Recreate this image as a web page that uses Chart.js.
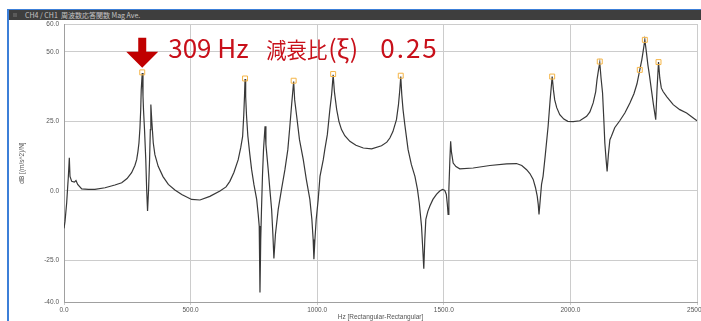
<!DOCTYPE html>
<html lang="ja">
<head>
<meta charset="UTF-8">
<title>CH4 / CH1 周波数応答関数 Mag Ave.</title>
<style>
  html, body { margin: 0; padding: 0; background: #fff; }
  #frame {
    position: absolute; left: 7px; top: 9px; width: 692px; height: 312px;
    border-left: 2px solid #3c7fd8;
  }
  #bar {
    position: absolute; left: 0; top: 0; right: 0; height: 10px;
    background: #3e3e3e; border-top: 1px solid #3c7fd8;
    color: #c4c4c4; font: 7px "Noto Sans CJK JP", sans-serif; line-height: 10px;
    padding-left: 16px; white-space: nowrap;
  }
  #bar .icon {
    position: absolute; left: 4px; top: 3px; width: 4px; height: 4px; background: #5a5a5a;
  }
  #frf { position: absolute; left: 0; top: 0; }
</style>
</head>
<body>
<div id="frame">
  <div id="bar"><span class="icon"></span>CH4 / CH1&nbsp;&nbsp;周波数応答関数&nbsp;Mag&nbsp;Ave.</div>
</div>
<canvas id="frf" width="701" height="321"></canvas>

<script src="https://cdn.jsdelivr.net/npm/chart.js"></script>
<script>
// FRF magnitude (Hz / dB)
const freqHz = [0, 4, 10.7, 14.6, 17, 21, 23.7, 30.4, 40.7, 47.4, 54, 70, 96, 122, 162, 201, 228, 249, 267, 280,
  287, 292, 296, 300, 303, 305, 309, 312, 314, 318, 323, 326.5, 330, 334, 338, 341, 343, 347, 352.6, 359,
  372, 391, 412, 438, 465, 504, 537, 576, 616, 640, 655, 671, 688, 698, 705.5, 710, 713, 715, 717.5, 721,
  726, 734, 741, 750, 761, 767, 771, 774, 777, 780, 784, 788, 794, 797.5, 806.5, 813, 820, 825, 829, 835,
  846, 859, 872.5, 884, 892, 899, 907, 911, 919, 930, 945, 957, 971, 979, 984, 987, 991, 996, 1004, 1011,
  1024, 1030, 1040, 1050, 1057, 1063, 1068, 1077, 1086, 1096, 1109, 1129, 1153, 1182, 1215, 1254, 1275, 1287, 1299, 1313,
  1321, 1326, 1330, 1334, 1339, 1346, 1359, 1372, 1386, 1396, 1403, 1412, 1417, 1421, 1425, 1429, 1437, 1445, 1457, 1471,
  1484, 1495, 1504, 1510, 1514, 1517, 1520, 1524, 1527, 1530, 1537, 1548, 1563, 1616, 1682, 1748, 1787, 1808, 1827, 1840,
  1853, 1862, 1869, 1873, 1876, 1881, 1886, 1892, 1901, 1912, 1920, 1928, 1933, 1938, 1946, 1958, 1974, 1990, 2011, 2037,
  2064, 2077, 2090, 2100, 2105, 2111, 2116, 2121, 2127, 2132, 2136, 2141, 2145, 2150, 2156, 2162, 2175, 2195, 2215, 2235,
  2251, 2263, 2274, 2282, 2287, 2294, 2300, 2306, 2312, 2320, 2328, 2337, 2342, 2348, 2353, 2359, 2366, 2381, 2406, 2432,
  2459, 2484, 2500];
const magDb = [-13.5, -11, -4.2, 1.5, 4.8, 11.9, 5.2, 3.4, 3.1, 3.7, 2.3, 0.7, 0.5, 0.5, 1.1, 2.1, 2.9, 4.4, 6.5, 9.1,
  11.2, 14.1, 17.2, 22.7, 29.2, 36.3, 42.4, 34, 29.2, 22, 11.2, 0.5, -7.3, 0.5, 11.2, 22, 31, 24.8, 17.2, 13,
  8.8, 5.1, 2.3, 0.3, -1.3, -3.1, -3.3, -2, -0.1, 1.4, 3.4, 6.6, 11.2, 15.5, 19.6, 27.3, 34.4, 40.2, 33.8, 26.8,
  19.8, 13, 7.6, 2.3, -3.1, -8.5, -12.7, -36.6, -17.5, -6.7, 5.8, 14.8, 23.2, 16.6, 7.6, 0.5, -6.7, -15.7, -24.3, -15.7,
  -6.7, 0.5, 7.6, 14.8, 23.2, 31, 39.3, 32.7, 26.8, 18.4, 11.2, 4.1, -3.1, -10.3, -17.5, -24.6, -17.5, -10.3, -3.1, 5.2,
  11.2, 14.8, 20.2, 29.2, 34.6, 41.7, 35.6, 29.2, 24.9, 22, 19.8, 17.8, 16.4, 15.4, 15.1, 16.2, 17.5, 19, 21.3, 25.6,
  31, 36.1, 41.1, 34.6, 29.2, 23.8, 14.8, 9.4, 5.2, 0.5, -4.3, -12.7, -21, -28, -17.5, -10.3, -7.4, -5.5, -3.1, -1.3,
  -0.1, 0.5, 0.1, -1.3, -4.9, -8.5, 0.5, 11.2, 17.8, 14.1, 10, 8.7, 7.9, 8.2, 9.1, 9.7, 9.8, 9.1, 7.6, 6.2,
  4.1, 1.2, -1.9, -4.9, -8.5, -3.1, 2.3, 5.2, 13, 23.2, 32.7, 41.1, 36.3, 32.7, 29.9, 27.4, 25.8, 25, 24.9, 25.2,
  26.8, 28.4, 31.6, 35.7, 39.9, 43.5, 46.1, 40.6, 35.2, 25.6, 17.2, 11.2, 7, 13, 18.4, 19.6, 22.7, 25.2, 28, 31.6,
  34.9, 38.5, 43.5, 47.1, 50, 54.3, 50, 45.3, 41.7, 36.3, 31, 25.6, 36.3, 46.3, 40.6, 37, 35.7, 33.8, 31, 29.2,
  28, 26.3, 25.2];

// picked peaks (orange squares)
const peakHz = [309, 715, 907, 1063, 1330, 1928, 2116, 2274, 2294, 2348];
const peakDb = [42.6, 40.4, 39.6, 42, 41.4, 41.1, 46.5, 43.5, 54.3, 46.3];

const xTicks = [0, 500, 1000, 1500, 2000, 2500];
const yTicks = [-40, -25, 0, 25, 50, 60];

const noteHz = 309;
const noteParts = ['309 Hz', '減衰比', '(ξ)', '0.25'];

const curve = freqHz.map((f, i) => ({ x: f, y: magDb[i] }));
const peaks = peakHz.map((f, i) => ({ x: f, y: peakDb[i] }));

const axisFont = { family: '"Liberation Sans", Arial, sans-serif', size: 6.5 };
const axisColor = '#555';

// red arrow + damping ratio note over the 309 Hz peak
const noteMark = {
  id: 'noteMark',
  afterDatasetsDraw(chart) {
    const { ctx, scales: { x, y } } = chart;
    const ax = x.getPixelForValue(noteHz);
    const tip = y.getPixelForValue(peakDb[0]) - 4.5;
    ctx.save();
    ctx.fillStyle = '#c00000';
    ctx.beginPath();
    ctx.moveTo(ax - 4, tip - 30);
    ctx.lineTo(ax + 4, tip - 30);
    ctx.lineTo(ax + 4, tip - 16);
    ctx.lineTo(ax + 16, tip - 16);
    ctx.lineTo(ax, tip);
    ctx.lineTo(ax - 16, tip - 16);
    ctx.lineTo(ax - 4, tip - 16);
    ctx.closePath();
    ctx.fill();

    const base = tip - 10;
    ctx.fillStyle = '#c8101a';
    ctx.textBaseline = 'alphabetic';
    ctx.font = '26px "Noto Sans CJK JP", sans-serif';
    ctx.fillText(noteParts[0], ax + 26, base);
    ctx.font = '22px "Noto Sans CJK JP", sans-serif';
    ctx.fillText(noteParts[1], ax + 124, base, 61);
    ctx.font = '25px "Noto Sans CJK JP", sans-serif';
    ctx.fillText(noteParts[2], ax + 186, base);
    ctx.font = '26px "Noto Sans CJK JP", sans-serif';
    ctx.letterSpacing = '2px';
    ctx.fillText(noteParts[3], ax + 238, base);
    ctx.restore();
  }
};

new Chart(document.getElementById('frf'), {
  type: 'scatter',
  data: {
    datasets: [
      {
        data: peaks,
        pointStyle: 'rect',
        pointRadius: 3.5,
        borderColor: '#f5b547',
        backgroundColor: 'rgba(0,0,0,0)',
        borderWidth: 1,
        showLine: false
      },
      {
        data: curve,
        showLine: true,
        borderColor: '#383838',
        borderWidth: 1.2,
        pointRadius: 0,
        tension: 0
      }
    ]
  },
  options: {
    responsive: false,
    animation: false,
    layout: { padding: { top: 24, right: 4, left: 0, bottom: 0 }, autoPadding: false },
    plugins: { legend: { display: false }, tooltip: { enabled: false } },
    scales: {
      x: {
        type: 'linear',
        min: 0,
        max: 2500,
        afterBuildTicks: s => { s.ticks = xTicks.map(v => ({ value: v })); },
        afterFit: s => { s.height = 19; s.paddingLeft = 0; s.paddingRight = 0; },
        ticks: { font: axisFont, color: axisColor, padding: 1, maxRotation: 0, callback: v => v.toFixed(1) },
        grid: { color: '#cccccc', tickLength: 3 },
        border: { color: '#a0a0a0' },
        title: { display: true, text: 'Hz [Rectangular-Rectangular]', font: axisFont, color: axisColor, padding: 0 }
      },
      y: {
        min: -40,
        max: 60,
        afterBuildTicks: s => { s.ticks = yTicks.map(v => ({ value: v })); },
        afterFit: s => { s.width = 64; s.paddingTop = 0; s.paddingBottom = 0; },
        ticks: { font: axisFont, color: axisColor, padding: 5, callback: v => v.toFixed(1) },
        grid: { color: '#cccccc', drawTicks: false },
        border: { color: '#a0a0a0' },
        title: { display: true, text: 'dB [(m/s^2)/N]', font: axisFont, color: axisColor, padding: { top: 18, bottom: 0 } }
      }
    }
  },
  plugins: [noteMark]
});
</script>
</body>
</html>
